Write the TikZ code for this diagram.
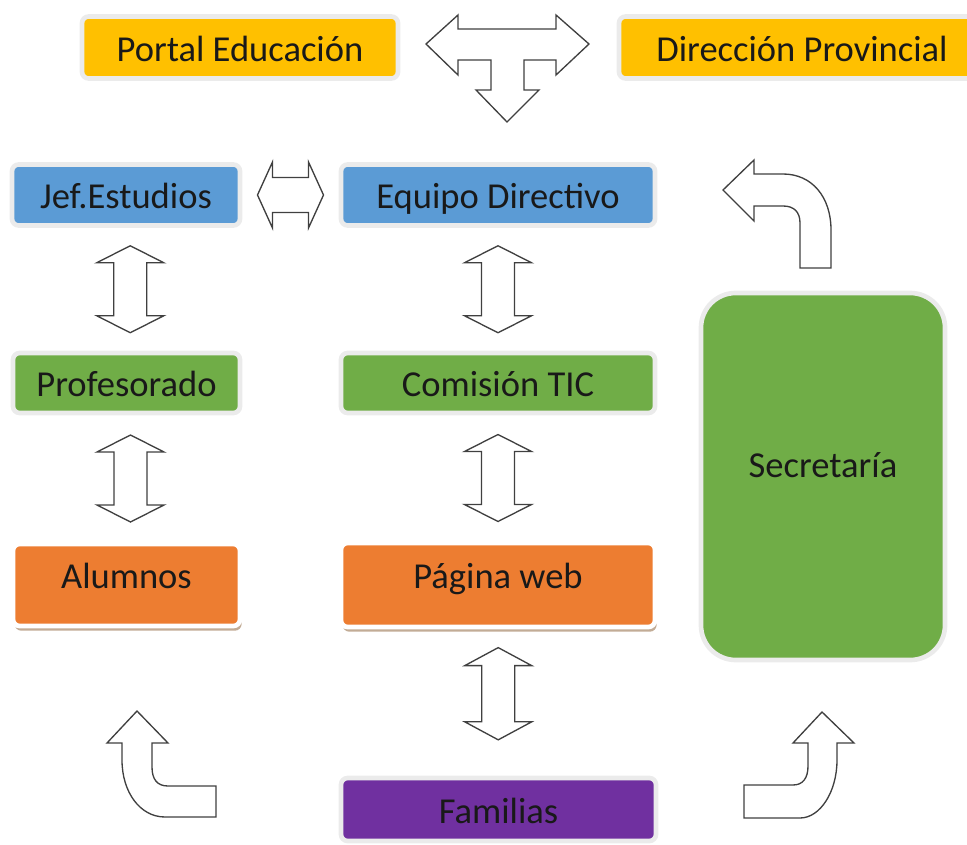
\documentclass[tikz,border=0pt]{standalone}
\usepackage{fontspec}
\setmainfont{Carlito}
\usetikzlibrary{calc,shadows}

\definecolor{amarillo}{HTML}{FFC000}
\definecolor{azul}{HTML}{5B9BD5}
\definecolor{verde}{HTML}{70AD47}
\definecolor{naranja}{HTML}{ED7D31}
\definecolor{morado}{HTML}{7030A0}

\begin{document}
\begin{tikzpicture}[x=0.75pt,y=-0.75pt,
    caja/.style={rectangle, rounded corners=5pt, draw=black!8, line width=3.5pt,
        font=\fontsize{27.4}{31}\selectfont, text=black!90, inner sep=0pt,
        text height=22pt, text depth=1.4pt},
    sombra/.style={draw=white, text depth=16.4pt,
        drop shadow={shadow xshift=1.2pt, shadow yshift=-3.5pt, fill=brown!70!black, opacity=0.5}},
    flecha/.style={draw=black!75, fill=white, line width=1pt, line join=miter},
    vdoble/.pic={\draw[flecha] (0,-43.5) -- (33.5,-26.5) -- (16.5,-26.5) -- (16.5,26.5)
        -- (33.5,26.5) -- (0,43.5) -- (-33.5,26.5) -- (-16.5,26.5) -- (-16.5,-26.5)
        -- (-33.5,-26.5) -- cycle;},
    hdoble/.pic={\draw[flecha] (-33,0) -- (-18,-33) -- (-18,-17.5) -- (18,-17.5)
        -- (18,-33) -- (33,0) -- (18,33) -- (18,17.5) -- (-18,17.5) -- (-18,33) -- cycle;}]
    \useasboundingbox (0,0) rectangle (967,845);

    % cajas
    \node[caja, fill=amarillo, minimum width=237pt, minimum height=46.5pt] (portal) at (240,47.5) {Portal Educación};
    \node[caja, fill=amarillo, minimum width=274.5pt, minimum height=46.5pt] (direccion) at (802,47.5) {Dirección Provincial};
    \node[caja, fill=azul, minimum width=171pt, minimum height=45.75pt] (jefatura) at (126,195) {Jef.Estudios};
    \node[caja, fill=azul, minimum width=235.5pt, minimum height=45.75pt] (equipo) at (498,195) {Equipo Directivo};
    \node[caja, fill=verde, minimum width=170.25pt, minimum height=45pt] (profesorado) at (126.5,383) {Profesorado};
    \node[caja, fill=verde, minimum width=235.5pt, minimum height=45pt] (comision) at (498,383) {Comisión TIC};
    \node[caja, sombra, fill=naranja, minimum width=170.25pt, minimum height=61.5pt] (alumnos) at (126.5,585) {Alumnos};
    \node[caja, sombra, fill=naranja, minimum width=235.5pt, minimum height=63pt] (pagina) at (498,585) {Página web};
    \node[caja, fill=morado, minimum width=236.25pt, minimum height=47.25pt] (familias) at (498.5,809.5) {Familias};
    \node[caja, fill=verde, rounded corners=26pt, text depth=20.2pt, minimum width=183pt, minimum height=275.25pt] (secretaria) at (823,476.5) {Secretaría};

    % flechas dobles
    \pic at ($(jefatura.east)!0.5!(equipo.west)$) {hdoble};
    \pic at ($(jefatura.south)!0.5!(profesorado.north)+(4,0)$) {vdoble};
    \pic at ($(profesorado.south)!0.5!(alumnos.north)+(4,0)$) {vdoble};
    \pic at ($(equipo.south)!0.5!(comision.north)$) {vdoble};
    \pic at ($(comision.south)!0.5!(pagina.north)$) {vdoble};
    \pic[yscale=1.06] at ($(pagina.south)!0.44!(familias.north)$) {vdoble};

    % flecha en T
    \draw[flecha] (426,44) -- (458,15) -- (458,29) -- (556,29) -- (556,15) -- (589,44)
        -- (556,75) -- (556,60) -- (524,60) -- (524,90) -- (539,90) -- (507,122)
        -- (476,90) -- (491,90) -- (491,60) -- (458,60) -- (458,75) -- cycle;

    % flechas curvas
    \draw[flecha] (723,190) -- (754,160) -- (754,174) -- (783,174)
        .. controls (812,174) and (831,197) .. (831,230) -- (831,268) -- (800,268)
        -- (800,223) .. controls (800,212) and (794,206) .. (783,206)
        -- (754,206) -- (754,221) -- cycle;
    \draw[flecha] (137,711) -- (168,743) -- (152,743) -- (152,767)
        .. controls (152,779) and (157,786) .. (168,786) -- (216,786) -- (216,817)
        -- (165,817) .. controls (140,817) and (122,792) .. (122,760)
        -- (122,743) -- (107,743) -- cycle;
    \draw[flecha] (822,712) -- (854,743) -- (837,743) -- (837,760)
        .. controls (837,792) and (820,818) .. (800,818) -- (744,818) -- (744,785)
        -- (793,785) .. controls (803,785) and (808,778) .. (808,766)
        -- (808,743) -- (793,743) -- cycle;
\end{tikzpicture}
\end{document}
